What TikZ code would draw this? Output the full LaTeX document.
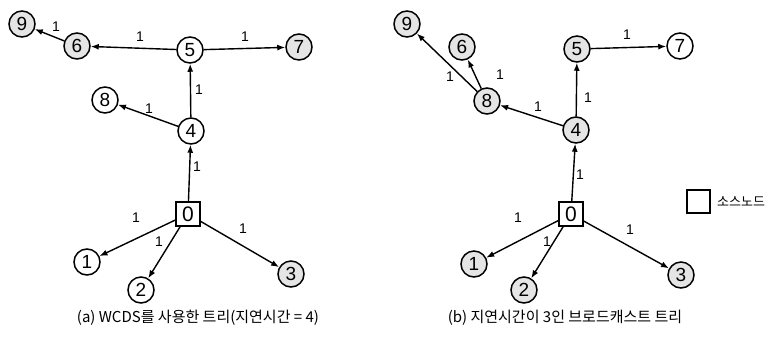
\documentclass[tikz,border=0pt]{standalone}
\usepackage{fontspec}
\setmainfont{Liberation Sans}
\newfontfamily\kr{Noto Sans CJK KR}
\usetikzlibrary{arrows.meta}
\begin{document}
\begin{tikzpicture}[x=1pt,y=-1pt,
  nd/.style={circle,draw,line width=1.5pt,minimum size=26pt,inner sep=0pt,font=\fontsize{19}{19}\selectfont},
  gnd/.style={nd,fill=black!10},
  src/.style={rectangle,draw,line width=1.1pt,minimum size=24pt,inner sep=0pt,font=\fontsize{21}{21}\selectfont},
  arr/.style={line width=1.4pt,-{Latex[length=8pt,width=6pt]}},
  lbl/.style={inner sep=0pt,font=\fontsize{14}{14}\selectfont},
  captext/.style={inner sep=0pt,font=\kr\fontsize{15}{15}\selectfont},
  legtext/.style={inner sep=0pt,font=\kr\fontsize{13}{13}\selectfont}]
\useasboundingbox (0,0) rectangle (784,349);
% ---------- (a) ----------
\node[gnd] (a9) at (22,24) {9};
\node[gnd] (a6) at (77,46) {6};
\node[nd]  (a5) at (190,50) {5};
\node[gnd] (a7) at (299,47) {7};
\node[nd]  (a8) at (105,100) {8};
\node[nd]  (a4) at (191,131) {4};
\node[src] (a0) at (188,214) {0};
\node[nd]  (a1) at (87,262) {1};
\node[nd]  (a2) at (141,290) {2};
\node[gnd] (a3) at (291,274) {3};
\draw[arr] (a6) -- (a9);
\draw[arr] (a5) -- (a6);
\draw[arr] (a5) -- (a7);
\draw[arr] (a4) -- (a5);
\draw[arr] (a4) -- (a8);
\draw[arr] (a0) -- (a4);
\draw[arr] (a0) -- (a1);
\draw[arr] (a0) -- (a2);
\draw[arr] (a0) -- (a3);
\node[lbl] (la69) at (56,27) {1};
\node[lbl] (la56) at (140,37) {1};
\node[lbl] (la57) at (245,37) {1};
\node[lbl] (la45) at (199,90) {1};
\node[lbl] (la48) at (149,109) {1};
\node[lbl] (la04) at (197,167) {1};
\node[lbl] (la01) at (136,218) {1};
\node[lbl] (la02) at (159,242) {1};
\node[lbl] (la03) at (243,229) {1};
\node[captext] (capa) at (198,318) {(a) WCDS를 사용한 트리(지연시간 = 4)};
% ---------- (b) ----------
\node[gnd] (b9) at (407,24) {9};
\node[gnd] (b6) at (462,47) {6};
\node[gnd] (b8) at (487,101) {8};
\node[gnd] (b5) at (577,49) {5};
\node[nd]  (b7) at (680,46) {7};
\node[gnd] (b4) at (576,130) {4};
\node[src] (b0) at (571,214) {0};
\node[gnd] (b1) at (474,264) {1};
\node[gnd] (b2) at (524,290) {2};
\node[gnd] (b3) at (681,275) {3};
\draw[arr] (b8) -- (b9);
\draw[arr] (b8) -- (b6);
\draw[arr] (b4) -- (b8);
\draw[arr] (b4) -- (b5);
\draw[arr] (b5) -- (b7);
\draw[arr] (b0) -- (b4);
\draw[arr] (b0) -- (b1);
\draw[arr] (b0) -- (b2);
\draw[arr] (b0) -- (b3);
\node[lbl] (lb89) at (450,77) {1};
\node[lbl] (lb86) at (500,75) {1};
\node[lbl] (lb48) at (538,107) {1};
\node[lbl] (lb45) at (588,98) {1};
\node[lbl] (lb57) at (627,35) {1};
\node[lbl] (lb04) at (580,175) {1};
\node[lbl] (lb01) at (518,218) {1};
\node[lbl] (lb02) at (547,242) {1};
\node[lbl] (lb03) at (630,230) {1};
\node[captext] (capb) at (565,318) {(b) 지연시간이 3인 브로드캐스트 트리};
% legend
\node[rectangle,draw,line width=1.1pt,minimum size=23pt,inner sep=0pt] (leg) at (698.5,201.5) {};
\node[legtext,anchor=west] (legt) at (717,202) {소스노드};
\end{tikzpicture}
\end{document}
